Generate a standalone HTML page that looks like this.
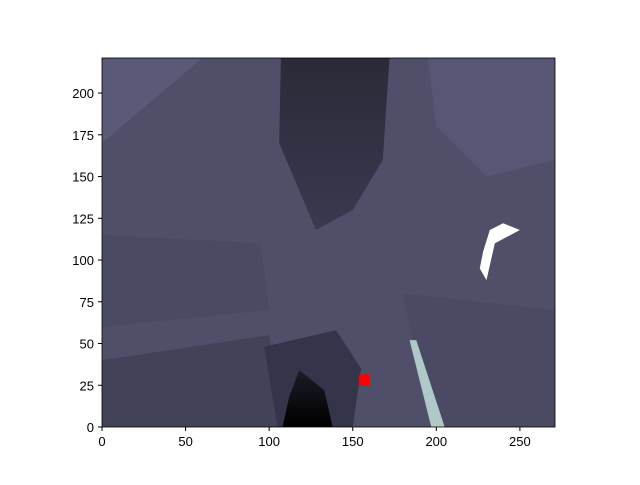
<!DOCTYPE html>
<html><head><meta charset="utf-8"><style>
body{margin:0;background:#fff;}
svg text{font-family:"Liberation Sans","DejaVu Sans",sans-serif;font-size:13px;fill:#000;}
</style></head><body>
<svg id="chart" width="640" height="480">
<defs><clipPath id="clip"><rect x="102" y="58" width="453" height="369"/></clipPath>
<linearGradient id="dark" x1="0" y1="0" x2="0" y2="1"><stop offset="0" stop-color="#2a2a38"/><stop offset="1" stop-color="#3a3a50"/></linearGradient>
<linearGradient id="blk" x1="0" y1="0" x2="0" y2="1"><stop offset="0" stop-color="#1c1c28"/><stop offset="1" stop-color="#000"/></linearGradient></defs>
<g id="plot" clip-path="url(#clip)"></g>
<g id="axes"></g>
</svg>
<script>
const xTicks=[0,50,100,150,200,250];
const yTicks=[0,25,50,75,100,125,150,175,200];
const markerX=[157];
const markerY=[28];
const xMax=271, yMax=221;
const X=v=>102+v*453/xMax;
const Y=v=>427-v*369/yMax;
const NS="http://www.w3.org/2000/svg";
const plot=document.getElementById('plot');
const axes=document.getElementById('axes');
function poly(pts,fill,name){
  const p=document.createElementNS(NS,'polygon');
  p.setAttribute('points',pts.map(q=>X(q[0])+','+Y(q[1])).join(' '));
  p.setAttribute('fill',fill);
  
  
  plot.appendChild(p);
}
poly([[0,0],[271,0],[271,221],[0,221]],'#4f4f6a','image-background');
poly([[0,221],[60,221],[0,170]],'#5a5a78','top-left-region');
poly([[0,0],[110,0],[100,55],[0,40]],'#424259','bottom-left-region');
poly([[0,60],[100,70],[95,110],[0,115]],'#4a4a64','left-mid-region');
poly([[107,221],[172,221],[168,160],[150,130],[128,118],[106,170]],'url(#dark)','dark-center-top');
poly([[97,48],[140,58],[155,35],[150,0],[105,0]],'#34344a','dark-bottom-center');
poly([[108,0],[138,0],[133,22],[118,34],[112,18]],'url(#blk)','black-region');
poly([[195,221],[271,221],[271,160],[230,150],[200,180]],'#575775','top-right-region');
poly([[180,80],[271,70],[271,0],[205,0],[185,55]],'#4a4a64','bottom-right-region');
poly([[184,52],[188,52],[205,0],[197,0]],'#b0c8c8','light-strip');
poly([[228,105],[232,118],[240,122],[250,118],[235,110],[230,88],[226,95]],'#ffffff','white-patch');
const fr=document.createElementNS(NS,'rect');
fr.setAttribute('x',102);fr.setAttribute('y',58);fr.setAttribute('width',453);fr.setAttribute('height',369);
fr.setAttribute('fill','none');fr.setAttribute('stroke','#000');fr.setAttribute('stroke-width','0.8');


axes.appendChild(fr);
xTicks.forEach(t=>{
  const l=document.createElementNS(NS,'line');
  l.setAttribute('x1',X(t));l.setAttribute('x2',X(t));l.setAttribute('y1',427);l.setAttribute('y2',431);l.setAttribute('stroke','#000');
  
  
  axes.appendChild(l);
  const tx=document.createElementNS(NS,'text');
  tx.setAttribute('x',X(t));tx.setAttribute('y',446);tx.setAttribute('text-anchor','middle');tx.textContent=t;
  
  
  axes.appendChild(tx);
});
yTicks.forEach(t=>{
  const l=document.createElementNS(NS,'line');
  l.setAttribute('x1',98);l.setAttribute('x2',102);l.setAttribute('y1',Y(t));l.setAttribute('y2',Y(t));l.setAttribute('stroke','#000');
  
  
  axes.appendChild(l);
  const tx=document.createElementNS(NS,'text');
  tx.setAttribute('x',94);tx.setAttribute('y',Y(t)+5);tx.setAttribute('text-anchor','end');tx.textContent=t;
  
  
  axes.appendChild(tx);
});
markerX.forEach((mx,i)=>{
  const r=document.createElementNS(NS,'rect');
  r.setAttribute('x',X(mx)-5.5);r.setAttribute('y',Y(markerY[i])-5.5);r.setAttribute('width',11);r.setAttribute('height',11);r.setAttribute('fill','#ff0000');
  
  
  axes.appendChild(r);
});
</script>
</body></html>
